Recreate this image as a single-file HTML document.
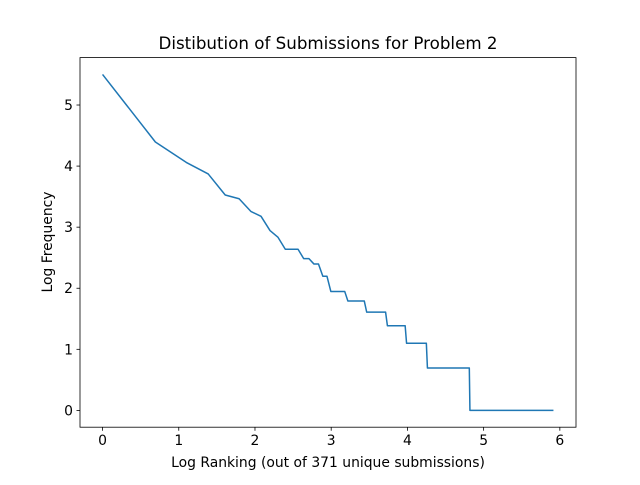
<!DOCTYPE html>
<html><head><meta charset="utf-8"><style>
body{margin:0;background:#fff;}
svg text{font-family:"DejaVu Sans","Liberation Sans",sans-serif;fill:#000;}
</style></head><body>
<svg id="chart" width="640" height="480" viewBox="0 0 640 480" xmlns="http://www.w3.org/2000/svg">
<rect width="640" height="480" fill="#fff"/>
<text x="328" y="49" font-size="16.7" text-anchor="middle">Distibution of Submissions for Problem 2</text>
<text x="328" y="467" font-size="13.9" text-anchor="middle">Log Ranking (out of 371 unique submissions)</text>
<text transform="translate(52,242) rotate(-90)" font-size="13.9" text-anchor="middle">Log Frequency</text>
<g id="ticks"></g>
<polyline id="line" fill="none" stroke="#1f77b4" stroke-width="1.5" stroke-linejoin="round"/>
<rect x="80" y="57.6" width="496" height="369.6" fill="none" stroke="#000" stroke-width="0.8"/>
</svg>
<script>
// frequency of each rank-group, and last rank in that group
const freqValues = [245,81,58,48,34,32,26,24,19,17,14,12,11,9,7,6,5,4,3,2,1];
const groupEndRank = [1,2,3,4,5,6,7,8,9,10,13,15,17,19,24,31,41,53,70,123,371];
const xTicks = [0,1,2,3,4,5,6];
const yTicks = [0,1,2,3,4,5];

const L=80,R=576,T=57.6,B=427.2;
const pts=[];let r=1;
for(let i=0;i<freqValues.length;i++){for(;r<=groupEndRank[i];r++)pts.push([Math.log(r),Math.log(freqValues[i])]);}
const xmax0=Math.max(...pts.map(p=>p[0])),xmin0=0;
const ys=pts.map(p=>p[1]);const ymin0=Math.min(...ys),ymax0=Math.max(...ys);
const xm=(xmax0-xmin0)*0.05,ym=(ymax0-ymin0)*0.05;
const xs=v=>L+(v-(xmin0-xm))/((xmax0+xm)-(xmin0-xm))*(R-L);
const yf=v=>B-(v-(ymin0-ym))/((ymax0+ym)-(ymin0-ym))*(B-T);
document.getElementById('line').setAttribute('points',pts.map(p=>xs(p[0]).toFixed(2)+','+yf(p[1]).toFixed(2)).join(' '));
const g=document.getElementById('ticks');const NS='http://www.w3.org/2000/svg';
xTicks.forEach(t=>{const x=xs(t);
 const l=document.createElementNS(NS,'line');
 
 
 l.setAttribute('x1',x);l.setAttribute('x2',x);l.setAttribute('y1',B);l.setAttribute('y2',B+3.5);l.setAttribute('stroke','#000');l.setAttribute('stroke-width','0.8');g.appendChild(l);
 const tx=document.createElementNS(NS,'text');
 
 
 tx.setAttribute('x',x);tx.setAttribute('y',B+18);tx.setAttribute('font-size','13.9');tx.setAttribute('text-anchor','middle');tx.textContent=t;g.appendChild(tx);});
yTicks.forEach(t=>{const y=yf(t);
 const l=document.createElementNS(NS,'line');
 
 
 l.setAttribute('x1',L-3.5);l.setAttribute('x2',L);l.setAttribute('y1',y);l.setAttribute('y2',y);l.setAttribute('stroke','#000');l.setAttribute('stroke-width','0.8');g.appendChild(l);
 const tx=document.createElementNS(NS,'text');
 
 
 tx.setAttribute('x',L-7);tx.setAttribute('y',y+5);tx.setAttribute('font-size','13.9');tx.setAttribute('text-anchor','end');tx.textContent=t;g.appendChild(tx);});
</script>
</body></html>
